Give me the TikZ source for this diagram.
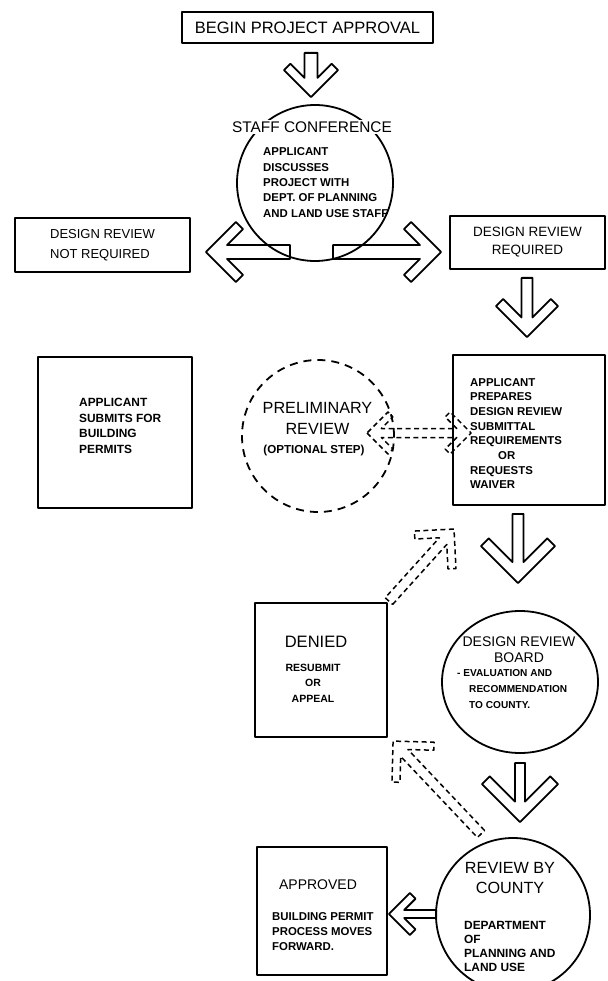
\documentclass[tikz,border=0pt]{standalone}
\usepackage{fontspec}
\setmainfont{Liberation Sans}
\usetikzlibrary{calc,shapes.geometric}

\tikzset{
  trazo/.style={line width=1.8pt, line join=round},
  caja/.style={trazo, draw, rectangle, inner sep=0pt},
  disco/.style={trazo, draw, circle, inner sep=0pt},
  texto/.style={inner sep=0pt, align=left},
  punteada/.style={line width=1.5pt, dash pattern=on 5pt off 3.5pt},
}
\newcommand{\fs}[2]{\fontsize{#1}{#2}\selectfont}
\newcommand{\fb}[2]{\fontsize{#1}{#2}\selectfont\bfseries}

% flecha gruesa: [estilo]{cola}{punta}{medio ancho}{cabeza}{grosor}
\newcommand{\fatarrow}[6][]{%
  \path (#2) coordinate (fa-a) (#3) coordinate (fa-b);
  \pgfpointdiff{\pgfpointanchor{fa-a}{center}}{\pgfpointanchor{fa-b}{center}}%
  \pgfgetlastxy{\fadx}{\fady}%
  \pgfmathsetmacro\faang{atan2(\fady,\fadx)}%
  \pgfmathsetmacro\falen{veclen(\fadx,\fady)}%
  \begin{scope}[shift={(fa-a)}, rotate=\faang, x=1pt, y=1pt]
    \draw[trazo,#1] (0,-#4) -- ({\falen-sqrt(2)*#6-#4},-#4)
      -- ({\falen-#5-#6/sqrt(2)},{-#5+#6/sqrt(2)}) -- ({\falen-#5},-#5)
      -- (\falen,0) -- ({\falen-#5},#5)
      -- ({\falen-#5-#6/sqrt(2)},{#5-#6/sqrt(2)})
      -- ({\falen-sqrt(2)*#6-#4},#4) -- (0,#4) -- cycle;
  \end{scope}}
% flecha gruesa con dos puntas
\newcommand{\fatarrows}[6][]{%
  \path (#2) coordinate (fa-a) (#3) coordinate (fa-b);
  \pgfpointdiff{\pgfpointanchor{fa-a}{center}}{\pgfpointanchor{fa-b}{center}}%
  \pgfgetlastxy{\fadx}{\fady}%
  \pgfmathsetmacro\faang{atan2(\fady,\fadx)}%
  \pgfmathsetmacro\falen{veclen(\fadx,\fady)}%
  \begin{scope}[shift={(fa-a)}, rotate=\faang, x=1pt, y=1pt]
    \draw[trazo,#1] (0,0) -- (#5,-#5) -- ({#5+#6/sqrt(2)},{-#5+#6/sqrt(2)})
      -- ({sqrt(2)*#6+#4},-#4) -- ({\falen-sqrt(2)*#6-#4},-#4)
      -- ({\falen-#5-#6/sqrt(2)},{-#5+#6/sqrt(2)}) -- ({\falen-#5},-#5)
      -- (\falen,0) -- ({\falen-#5},#5)
      -- ({\falen-#5-#6/sqrt(2)},{#5-#6/sqrt(2)})
      -- ({\falen-sqrt(2)*#6-#4},#4) -- ({sqrt(2)*#6+#4},#4)
      -- ({#5+#6/sqrt(2)},{#5-#6/sqrt(2)}) -- (#5,#5) -- cycle;
  \end{scope}}

\begin{document}
\begin{tikzpicture}[x=1pt, y=-1pt]
\useasboundingbox (0,0) rectangle (607,981);

% Inicio
\node[caja, minimum width=251, minimum height=31, font=\fs{16.5}{18}] (inicio) at (307.5,27.5) {BEGIN PROJECT APPROVAL};

% Conferencia con el personal
\node[disco, minimum size=156] (conf) at (315,183) {};
\node[texto, fill=white, inner sep=1.5pt, font=\fs{15.4}{17}] (conf-tit) at (312,127) {STAFF CONFERENCE};
\node[texto, anchor=west, font=\fb{11.4}{15.3}] (conf-txt) at (263,182.5) {APPLICANT\\DISCUSSES\\PROJECT WITH\\DEPT. OF PLANNING\\AND LAND USE STAFF};

% Cajas de decision
\node[caja, minimum width=175, minimum height=54, align=left, font=\fs{13}{20}] (noreq) at (102.5,245) {DESIGN REVIEW\\NOT REQUIRED};
\node[caja, minimum width=155, minimum height=53, align=center, font=\fs{13.5}{18}] (req) at (527.5,242.5) {DESIGN REVIEW\\REQUIRED};

% Fila del medio
\node[caja, minimum width=154, minimum height=151] (solicita) at (115,432.5) {};
\node[texto, anchor=west, font=\fb{11.9}{15.5}] (solicita-txt) at (79,426) {APPLICANT\\SUBMITS FOR\\BUILDING\\PERMITS};

\node[disco, dash pattern=on 8pt off 6pt, minimum size=152] (previa) at (318,436) {};
\node[texto, align=center, font=\fs{16.2}{21}] (previa-tit) at (317.5,418.5) {PRELIMINARY\\REVIEW};
\node[texto, font=\fb{11.6}{14}] (previa-nota) at (314,450) {(OPTIONAL STEP)};

\node[caja, minimum width=152, minimum height=150] (prepara) at (529,430) {};
\node[texto, anchor=west, font=\fb{11.4}{14.7}] (prepara-txt) at (470,433.5) {APPLICANT\\PREPARES\\DESIGN REVIEW\\SUBMITTAL\\REQUIREMENTS\\\hspace*{28pt}OR\\REQUESTS\\WAIVER};

% Denegado y junta
\node[caja, minimum width=132, minimum height=134] (denegado) at (321,670) {};
\node[texto, font=\fs{16.5}{18}] (denegado-tit) at (316,642) {DENIED};
\node[texto, align=center, font=\fb{10.5}{15.5}] (denegado-txt) at (313,683) {RESUBMIT\\OR\\APPEAL};

\node[trazo, draw, ellipse, inner sep=0pt, minimum width=156, minimum height=142] (junta) at (520,682) {};
\node[texto, align=center, font=\fs{14}{16}] (junta-tit) at (519,650) {DESIGN REVIEW\\BOARD};
\node[texto, anchor=west, font=\fb{10.1}{16}] (junta-txt) at (457,689) {- EVALUATION AND\\\hspace*{12pt}RECOMMENDATION\\\hspace*{12pt}TO COUNTY.};

% Condado y aprobado
\node[disco, minimum size=154] (condado) at (513,915) {};
\node[texto, align=center, font=\fs{16.2}{20}] (condado-tit) at (510,878) {REVIEW BY\\COUNTY};
\node[texto, anchor=west, font=\fb{11.9}{14}] (condado-txt) at (464,946) {DEPARTMENT\\OF\\PLANNING AND\\LAND USE};

\node[caja, minimum width=130, minimum height=128] (aprobado) at (322,911) {};
\node[texto, font=\fs{14}{16}] (aprobado-tit) at (318,885) {APPROVED};
\node[texto, anchor=west, font=\fb{11.4}{15}] (aprobado-txt) at (272,932) {BUILDING PERMIT\\PROCESS MOVES\\FORWARD.};

% Extremos de las flechas
\coordinate (f1a) at ($(inicio.south)+(3.5,9)$);
\coordinate (f1b) at ($(conf.north)+(-4,-7)$);
\coordinate (f2a) at ($(conf.center)+(-25,69)$);
\coordinate (f2b) at ($(noreq.east)+(15,7)$);
\coordinate (f3a) at ($(conf.center)+(18,69)$);
\coordinate (f3b) at ($(req.west)+(-8,9.5)$);
\coordinate (f4a) at ($(req.south)+(-0.5,8)$);
\coordinate (f4b) at ($(prepara.north)+(-2,-17)$);
\coordinate (f5a) at ($(previa.center)+(49,-3)$);
\coordinate (f5b) at ($(prepara.west)+(19,3)$);
\coordinate (f6a) at ($(prepara.south)+(-11,8)$);
\coordinate (f6b) at ($(junta.north)+(-2,-27)$);
\coordinate (f7a) at ($(denegado.north east)+(1,-1)$);
\coordinate (f7b) at ($(prepara.south west)+(2,23)$);
\coordinate (f8a) at ($(condado.center)+(-32,-81)$);
\coordinate (f8b) at ($(denegado.south east)+(5,3)$);
\coordinate (f9a) at ($(junta.south)+(0,9)$);
\coordinate (f9b) at ($(condado.north)+(7,-15)$);
\coordinate (f10a) at ($(condado.west)+(1,-1)$);
\coordinate (f10b) at ($(aprobado.east)+(1,3)$);

% Flechas
\fatarrow{f1a}{f1b}{6.5}{27}{9}
\fatarrow{f2a}{f2b}{7}{30}{10}
\fatarrow{f3a}{f3b}{7}{30}{10}
\fatarrow{f4a}{f4b}{5.5}{31}{10}
\fatarrows[punteada]{f5a}{f5b}{4.5}{21}{7}
\fatarrow{f6a}{f6b}{5.5}{37}{11}
\fatarrow[punteada]{f7a}{f7b}{5}{28}{8}
\fatarrow[punteada]{f8a}{f8b}{5}{29}{8}
\fatarrow{f9a}{f9b}{5}{38}{11}
\fatarrow{f10a}{f10b}{4}{21}{8}
\end{tikzpicture}
\end{document}
